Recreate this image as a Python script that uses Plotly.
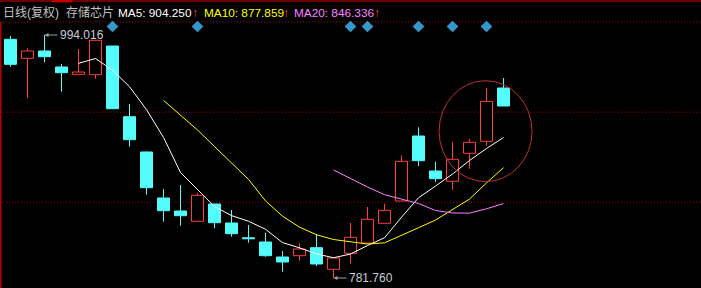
import numpy as np
import pandas as pd
import plotly.graph_objects as go

# ---- data (daily candles, 存储芯片) ----
opens = [990.26, 973.66, 980.04, 966.07, 959.69, 959.34, 984.41, 922.65, 891.82, 851.64,
         840.28, 831.28, 846.40, 829.80, 816.90, 813.20, 800.10, 801.24, 808.22, 789.35,
         803.33, 812.33, 829.54, 849.02, 905.79, 875.22, 866.22, 890.68, 901.16, 947.72]
highs = [993.14, 982.40, 994.016, 968.69, 981.79, 989.39, 984.41, 933.75, 892.25, 859.50,
         862.99, 855.74, 846.40, 841.15, 828.05, 821.33, 805.34, 812.07, 820.19, 799.23,
         829.80, 843.77, 846.40, 888.94, 913.39, 883.34, 900.55, 903.17, 947.72, 956.46]
lows = [966.33, 938.72, 970.17, 944.49, 959.69, 955.84, 929.64, 896.45, 854.52, 830.94,
        827.44, 831.28, 825.17, 817.83, 812.59, 800.36, 787.26, 796.87, 792.24, 781.76,
        794.25, 812.00, 829.54, 849.02, 879.59, 865.61, 858.89, 877.23, 897.32, 932.00]
closes = [968.42, 980.04, 975.06, 961.09, 961.70, 989.39, 929.64, 902.56, 860.63, 840.54,
          836.18, 854.00, 830.06, 820.45, 816.00, 801.24, 795.73, 807.09, 793.99, 799.23,
          817.31, 833.03, 840.89, 883.69, 884.22, 868.49, 885.44, 900.29, 936.00, 932.00]
signal_idx = [6, 11, 20, 21, 24, 26, 28]
title_main = "日线(复权)"
title_name = "存储芯片"
ma_labels = ["MA5: 904.250", "MA10: 877.859", "MA20: 846.336"]

# ---- layout constants ----
W, H = 701, 288
Y_TOP, Y_BOT = 1024.588, 773.02
X_LEFT, X_RIGHT = -0.6176, 40.618
GRID_PRICES = [1005.4, 926.6, 847.9]

RED = "#ff3c3c"
CYAN = "#54fcfc"
GRID = "#a00000"
FONT = "Liberation Sans, Noto Sans CJK SC, DejaVu Sans"

n = len(closes)
idx = np.arange(n)
o = np.array(opens); h = np.array(highs); l = np.array(lows); c = np.array(closes)
up = c >= o

fig = go.Figure()

# wicks
def wick_xy(mask):
    xs, ys = [], []
    for i in idx[mask]:
        top, bot = max(o[i], c[i]), min(o[i], c[i])
        xs += [i, i, None, i, i, None]
        ys += [h[i], top, None, bot, l[i], None]
    return xs, ys

for mask, col in [(up, RED), (~up, CYAN)]:
    xs, ys = wick_xy(mask)
    fig.add_trace(go.Scatter(x=xs, y=ys, mode="lines", line=dict(color=col, width=1),
                             hoverinfo="skip", showlegend=False))

# bodies
for mask, fill, col in [(up, "#000000", RED), (~up, CYAN, CYAN)]:
    base = np.minimum(o, c)[mask]
    hgt = np.abs(c - o)[mask]
    fig.add_trace(go.Bar(x=idx[mask], y=hgt, base=base, width=12 / 17,
                         marker=dict(color=fill, line=dict(color=col, width=1)),
                         showlegend=False, hoverinfo="skip"))

# moving averages
s = pd.Series(c)
for win, col in [(5, "#ffffff"), (10, "#ffff00"), (20, "#ff80ff")]:
    ma = s.rolling(win).mean()
    fig.add_trace(go.Scatter(x=idx, y=ma, mode="lines", line=dict(color=col, width=1),
                             hoverinfo="skip", showlegend=False))

# signal diamonds
scale = (Y_TOP - Y_BOT) / H
fig.add_trace(go.Scatter(x=signal_idx, y=[Y_TOP - 26.5 * scale] * len(signal_idx),
                         mode="markers",
                         marker=dict(symbol="diamond", size=9, color="#3399cc"),
                         hoverinfo="skip", showlegend=False))

# grid lines (behind the candles)
for p in GRID_PRICES:
    fig.add_shape(type="line", xref="paper", yref="y", x0=0, x1=1, y0=p, y1=p,
                  layer="below", line=dict(color=GRID, width=1, dash="1px,2px"))

# top strip and left border
fig.add_shape(type="rect", xref="paper", yref="paper", x0=0, x1=1,
              y0=1 - 2 / H, y1=1, line=dict(width=0), fillcolor="#700000")
fig.add_shape(type="rect", xref="paper", yref="paper", x0=52 / W, x1=72 / W,
              y0=1 - 2.5 / H, y1=1, line=dict(width=0), fillcolor="#c00000")
fig.add_shape(type="rect", xref="paper", yref="paper", x0=0, x1=1.5 / W,
              y0=0, y1=1 - 22 / H, line=dict(width=0), fillcolor="#b00000")

# highlight circle around the last candles
fig.add_shape(type="circle", xref="x", yref="y",
              x0=25.21, x1=30.68, y0=865.9, y1=954.1,
              line=dict(color="#c03030", width=1))

# max / min labels
hi_i = int(np.argmax(h)); lo_i = int(np.argmin(l))
for xi, yv in [(hi_i, h[hi_i]), (lo_i, l[lo_i])]:
    fig.add_annotation(x=xi, y=yv, text=f"{yv:.3f}", showarrow=True, ax=13, ay=0,
                       xanchor="left", arrowhead=2, arrowsize=0.8, arrowwidth=1,
                       arrowcolor="#a0a0a0", standoff=0,
                       font=dict(family=FONT, size=12, color="#c8ccd4"))

# title row
ty = 1 - 12.5 / H
items = [(title_main, 2, "#c0c0c0", 12, "left"), (title_name, 65, "#c0c0c0", 12, "left"),
         (ma_labels[0], 117, "#ffffff", 11.8, "left"), ("↑", 194.5, RED, 12, "center"),
         (ma_labels[1], 203, "#ffff00", 11.8, "left"), ("↑", 285.5, RED, 12, "center"),
         (ma_labels[2], 293, "#ff80ff", 11.8, "left"), ("↑", 376.5, RED, 12, "center")]
for txt, px, col, fs, anc in items:
    fig.add_annotation(xref="paper", yref="paper", x=px / W, y=ty, text=txt,
                       showarrow=False, xanchor=anc, yanchor="middle",
                       font=dict(family=FONT, size=fs, color=col), borderpad=0)

fig.update_layout(
    width=W, height=H, margin=dict(l=0, r=0, t=0, b=0),
    paper_bgcolor="#000000", plot_bgcolor="#000000",
    barmode="overlay", showlegend=False,
    xaxis=dict(range=[X_LEFT, X_RIGHT], visible=False, fixedrange=True),
    yaxis=dict(range=[Y_BOT, Y_TOP], visible=False, fixedrange=True),
)

fig.write_html("out.html", config={"displayModeBar": False})
